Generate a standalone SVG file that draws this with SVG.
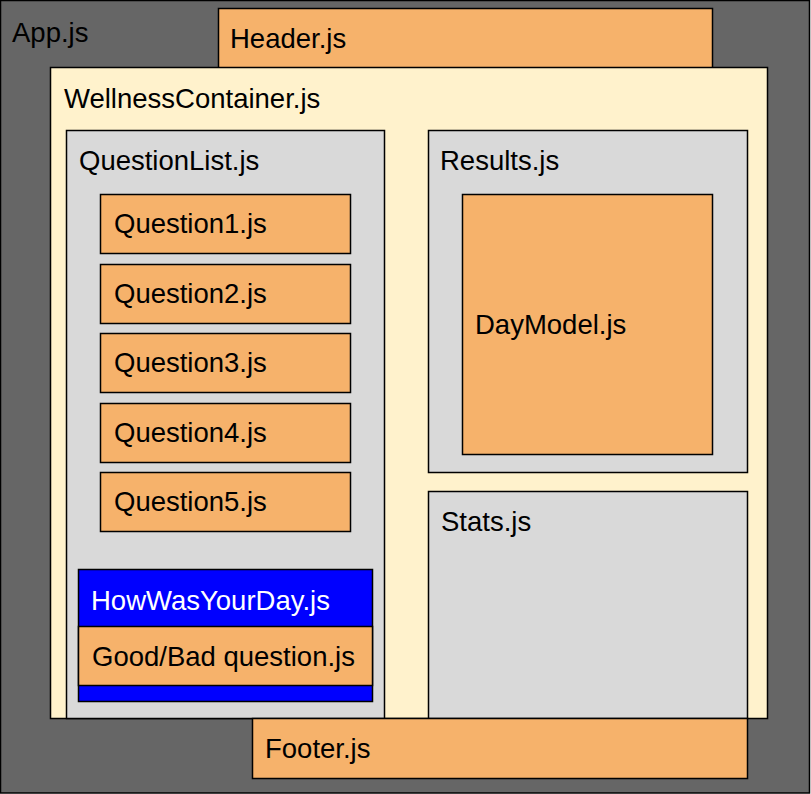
<svg xmlns="http://www.w3.org/2000/svg" width="811" height="794" viewBox="0 0 811 794">
<style>
rect{stroke:#000;stroke-width:1.5}
.app{fill:#666666}
.org{fill:#F6B26B}
.crm{fill:#FFF2CC}
.gry{fill:#D9D9D9}
.blu{fill:#0000FF}
text{font-family:"Liberation Sans",Arial,sans-serif;font-size:27.5px;fill:#000}
.w{fill:#FFFFFF}
</style>
<g id="app"><rect class="app" x="0.5" y="0.5" width="809" height="792.5"/><text x="12" y="42">App.js</text></g>
<g id="header"><rect class="org" x="218.5" y="8.5" width="494" height="60"/><text x="230" y="48">Header.js</text></g>
<g id="wellness"><rect class="crm" x="50.5" y="67.5" width="717" height="651"/><text x="64" y="108">WellnessContainer.js</text></g>
<g id="questionlist"><rect class="gry" x="66.5" y="130.5" width="318" height="588"/><text x="79" y="170">QuestionList.js</text></g>
<g id="results"><rect class="gry" x="428.5" y="130.5" width="319" height="342"/><text x="440" y="170">Results.js</text></g>
<g id="daymodel"><rect class="org" x="462.5" y="194.5" width="250" height="260"/><text x="475" y="334">DayModel.js</text></g>
<g id="stats"><rect class="gry" x="428.5" y="491.5" width="319" height="227"/><text x="441" y="531">Stats.js</text></g>
<g id="q1"><rect class="org" x="100.5" y="194.5" width="250" height="59"/><text x="114" y="233">Question1.js</text></g>
<g id="q2"><rect class="org" x="100.5" y="264.5" width="250" height="59"/><text x="114" y="303">Question2.js</text></g>
<g id="q3"><rect class="org" x="100.5" y="333.5" width="250" height="59"/><text x="114" y="372">Question3.js</text></g>
<g id="q4"><rect class="org" x="100.5" y="403.5" width="250" height="59"/><text x="114" y="442">Question4.js</text></g>
<g id="q5"><rect class="org" x="100.5" y="472.5" width="250" height="59"/><text x="114" y="511">Question5.js</text></g>
<g id="howwasyourday"><rect class="blu" x="78.5" y="569.5" width="294" height="132"/><text class="w" x="91" y="610">HowWasYourDay.js</text></g>
<g id="goodbad"><rect class="org" x="78.5" y="626.5" width="294" height="59"/><text x="92" y="666">Good/Bad question.js</text></g>
<g id="footer"><rect class="org" x="252.5" y="718.5" width="495" height="60"/><text x="265" y="758">Footer.js</text></g>
<g id="connectors"/>
</svg>
